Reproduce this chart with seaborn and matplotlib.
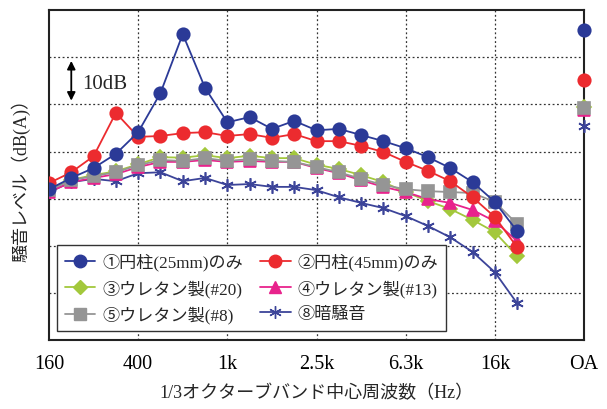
import matplotlib
matplotlib.use("Agg")
import matplotlib.pyplot as plt
import seaborn as sns
import numpy as np
import pandas as pd
from matplotlib.lines import Line2D

# 1/3オクターブバンド (160Hz-20kHz) + OA
bands = ['160', '200', '250', '315', '400', '500', '630', '800', '1k', '1.25k', '1.6k', '2k',
         '2.5k', '3.15k', '4k', '5k', '6.3k', '8k', '10k', '12.5k', '16k', '20k']
tick_labels = ['160', '400', '1k', '2.5k', '6.3k', '16k', 'OA']

s1 = [52.0, 54.4, 56.5, 59.5, 64.1, 72.4, 84.9, 73.5, 66.2, 67.3, 64.8, 66.5,
      64.5, 64.8, 63.5, 62.2, 60.7, 58.8, 56.5, 53.5, 49.3, 43.1]
s2 = [53.3, 55.6, 59.0, 68.2, 63.1, 63.3, 63.9, 64.1, 63.3, 63.7, 62.9, 63.7,
      62.2, 62.2, 61.2, 59.9, 57.8, 55.9, 53.7, 50.3, 46.1, 39.7]
s3 = [52.0, 54.0, 55.0, 55.8, 57.3, 58.8, 58.7, 59.2, 58.6, 59.1, 58.6, 58.6,
      57.2, 56.3, 55.0, 53.5, 51.4, 49.5, 47.8, 45.5, 42.9, 37.8]
s4 = [51.4, 53.5, 54.4, 55.2, 56.7, 57.8, 57.8, 58.2, 57.8, 58.0, 57.8, 57.8,
      56.5, 55.4, 53.9, 52.5, 51.4, 49.9, 49.1, 47.6, 45.2, 41.0]
s5 = [51.8, 53.9, 54.8, 55.6, 57.1, 58.2, 58.0, 58.6, 58.0, 58.4, 58.0, 57.8,
      56.7, 55.6, 54.2, 52.9, 52.0, 51.6, 51.4, 51.2, 49.3, 44.6]
s8 = [51.4, 53.5, 54.2, 53.7, 55.4, 55.6, 53.7, 54.4, 52.9, 53.1, 52.5, 52.5,
      51.8, 50.3, 49.1, 48.0, 46.3, 44.2, 41.8, 38.7, 34.4, 27.8]
oa = {'s1': 85.8, 's2': 75.2, 's3': 69.4, 's4': 68.8, 's5': 69.2, 's8': 65.4}

labels = {'s1': '①円柱(25mm)のみ', 's2': '②円柱(45mm)のみ', 's3': '③ウレタン製(#20)',
          's4': '④ウレタン製(#13)', 's5': '⑤ウレタン製(#8)', 's8': '⑧暗騒音'}
values = {'s1': s1, 's2': s2, 's3': s3, 's4': s4, 's5': s5, 's8': s8}

styles = {
    's1': dict(color='#2B3A97', marker='o', ms=9),
    's2': dict(color='#EC2B2F', marker='o', ms=9),
    's3': dict(color='#A3C83C', marker='D', ms=7),
    's4': dict(color='#E8238C', marker='^', ms=9),
    's5': dict(color='#959595', marker='s', ms=8.5),
    's8': dict(color='#3C4499', marker=(6, 2, 0), ms=9),
}

sns.set_style('white')
plt.rcParams['font.family'] = ['Liberation Serif', 'Noto Sans CJK JP']

fig = plt.figure(figsize=(6.07, 4.10), dpi=100)
ax = fig.add_axes([0.0807, 0.168, 0.8815, 0.805])

x = np.arange(len(bands))
oa_pos = 24
draw_order = ['s8', 's3', 's4', 's5', 's2', 's1']
z = {'s8': 3, 's3': 4, 's4': 5, 's5': 6, 's2': 7, 's1': 8}
for key in draw_order:
    st = styles[key]
    df = pd.DataFrame({'band': x, 'level': values[key]})
    sns.lineplot(data=df, x='band', y='level', ax=ax, color=st['color'],
                 marker=st['marker'], markersize=st['ms'], markeredgecolor=st['color'],
                 markeredgewidth=1.2, linewidth=1.3, zorder=z[key], legend=False)
    ax.plot([oa_pos], [oa[key]], linestyle='none', marker=st['marker'], markersize=st['ms'],
            color=st['color'], markeredgecolor=st['color'], markeredgewidth=1.2,
            clip_on=False, zorder=z[key] + 10)

ax.set_xlim(0, oa_pos)
ax.set_ylim(20, 90)
ax.set_xticks([0, 4, 8, 12, 16, 20, 24])
ax.set_xticklabels(tick_labels, fontsize=14.5)
ax.set_yticks(np.arange(20, 91, 10))
ax.set_yticklabels([])
ax.tick_params(axis='both', direction='in', length=5, width=1, colors='black')
ax.tick_params(axis='x', pad=10)

for v in [4, 8, 12, 16, 20]:
    ax.axvline(v, color='#333333', linestyle=(0, (1.5, 2)), linewidth=0.9, zorder=1)
for h in range(30, 90, 10):
    ax.axhline(h, color='#333333', linestyle=(0, (1.5, 2)), linewidth=0.9, zorder=1)

for sp in ax.spines.values():
    sp.set_color('#222222')
    sp.set_linewidth(1.5)

# 10dB スケール
ax.annotate('', xy=(1.0, 70.2), xytext=(1.0, 79.8),
            arrowprops=dict(arrowstyle='<|-|>', color='black', lw=1.3, mutation_scale=12))
ax.text(1.5, 74.5, '10dB', fontsize=15, va='center', ha='left')

ax.set_xlabel('1/3オクターブバンド中心周波数（Hz）', fontsize=13, labelpad=8)
ax.set_ylabel('騒音レベル（dB(A)）', fontsize=13, labelpad=10)

leg_order = ['s1', 's3', 's5', 's2', 's4', 's8']
handles = [Line2D([0], [0], color=styles[k]['color'], marker=styles[k]['marker'],
                  markersize=styles[k]['ms'], markeredgecolor=styles[k]['color'], lw=1.3)
           for k in leg_order]
leg = ax.legend(handles, [labels[k] for k in leg_order], ncol=2, fontsize=12.3,
                loc='lower left', bbox_to_anchor=(0.015, 0.027), borderaxespad=0,
                frameon=True, fancybox=False, edgecolor='#333333', framealpha=1,
                handlelength=1.8, columnspacing=1.0, labelspacing=0.5,
                borderpad=0.45, handletextpad=0.4)
leg.get_frame().set_linewidth(1.0)
leg.set_zorder(20)

fig.savefig('out.png', dpi=100)
